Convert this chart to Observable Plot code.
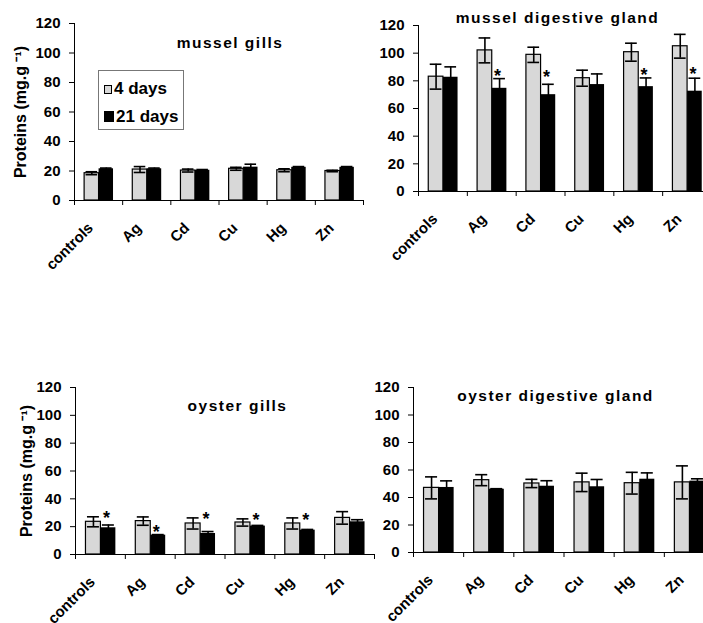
<!DOCTYPE html>
<html><head><meta charset="utf-8">
<script src="https://cdn.jsdelivr.net/npm/d3@7"></script>
<script src="https://cdn.jsdelivr.net/npm/@observablehq/plot@0.6"></script>
<style>
html,body{margin:0;padding:0;background:#fff;overflow:hidden;}
#wrap{position:relative;width:703px;height:623px;overflow:hidden;background:#fff;font-family:"Liberation Sans",Arial,sans-serif;}
.panel{position:absolute;}
.legend{position:absolute;left:98px;top:70px;width:86px;height:60px;border:1px solid #777;box-sizing:border-box;background:#fff;font-weight:bold;font-size:17px;color:#000;}
.legend .row{position:absolute;left:5px;white-space:nowrap;line-height:17px;}
.legend .sw{display:inline-block;vertical-align:baseline;margin-right:2px;box-sizing:border-box;}
</style></head><body><div id="wrap"></div>
<script>
const categories = ["controls", "Ag", "Cd", "Cu", "Hg", "Zn"];
const seriesNames = ["4 days", "21 days"];
const yTicks = [0, 20, 40, 60, 80, 100, 120];
const yLabel = "Proteins (mg.g \u207B\u00B9)";

// mussel gills
const mgTitle = "mussel gills";
const mg4 = [18.5, 21, 20.3, 21.5, 20.5, 20];
const mg4err = [1, 2, 1, 1, 1, 0.5];
const mg21 = [21.5, 21.5, 20.5, 22.6, 22.5, 22.5];
const mg21err = [0.5, 0.5, 0.5, 2, 0.5, 0.5];
const mgStars = [null, null, null, null, null, null];

// mussel digestive gland
const mdTitle = "mussel digestive gland";
const md4 = [83, 102, 98.8, 81.9, 100.7, 105];
const md4err = [9, 9, 5.5, 5.8, 6.5, 8.6];
const md21 = [82.6, 74.6, 70, 77.3, 75.8, 72.5];
const md21err = [7.5, 7, 7.5, 7.7, 6.3, 9.4];
const mdStars = [null, 86.8, 86.3, null, 87.5, 88.7];

// oyster gills
const ogTitle = "oyster gills";
const og4 = [23.5, 24, 22.3, 23, 22.3, 26.3];
const og4err = [3.6, 3, 4, 2.6, 4, 4.5];
const og21 = [19.2, 13.9, 15.1, 20.4, 17.5, 23.5];
const og21err = [2, 0.4, 1.4, 0.5, 0.5, 1.5];
const ogStars = [29.5, 19.4, 28.7, 28, 28, null];

// oyster digestive gland
const odTitle = "oyster digestive gland";
const od4 = [47, 52.6, 50.2, 51, 50.4, 51];
const od4err = [8, 4, 3, 6.7, 7.9, 12];
const od21 = [47.3, 46, 48.2, 47.8, 53.3, 51.9];
const od21err = [4.8, 0.4, 4, 5.3, 4.6, 1.7];
const odStars = [null, null, null, null, null, null];

const panels = [
  {title: mgTitle, v4: mg4, e4: mg4err, v21: mg21, e21: mg21err, stars: mgStars, ylab: true,
   left: 0, top: 0, width: 370, height: 300, ml: 74, mr: 7, mt: 23, mb: 100, tdx: 11, tdy: 24, ldx: -53.5},
  {title: mdTitle, v4: md4, e4: md4err, v21: md21, e21: md21err, stars: mdStars, ylab: false,
   left: 350, top: 0, width: 365, height: 300, ml: 68, mr: 4, mt: 25, mb: 109, tdx: -7.5, tdy: -3},
  {title: ogTitle, v4: og4, e4: og4err, v21: og21, e21: og21err, stars: ogStars, ylab: true,
   left: 0, top: 320, width: 380, height: 303, ml: 75, mr: 6, mt: 67, mb: 69, tdx: 12.5, tdy: 23, ldx: -49},
  {title: odTitle, v4: od4, e4: od4err, v21: od21, e21: od21err, stars: odStars, ylab: false,
   left: 345, top: 320, width: 374, height: 303, ml: 68, mr: 5, mt: 67, mb: 71, tdx: -8.5, tdy: 13}
];

const B0 = 0.21, B1 = 0.51, B2 = 0.81, CAP = 0.12;
const wrap = document.getElementById("wrap");

for (const p of panels) {
  const rows4 = categories.map((c, i) => ({i, cat: c, value: p.v4[i], err: p.e4[i], x: i + (B0 + B1) / 2}));
  const rows21 = categories.map((c, i) => ({i, cat: c, value: p.v21[i], err: p.e21[i], x: i + (B1 + B2) / 2, star: p.stars[i]}));
  const all = rows4.concat(rows21);
  const starRows = rows21.filter(d => d.star != null);
  const marks = [
    Plot.rectY(rows4, {x1: d => d.i + B0, x2: d => d.i + B1, y: "value", fill: "#d8d8d8", stroke: "#000", strokeWidth: 1.2}),
    Plot.rectY(rows21, {x1: d => d.i + B1, x2: d => d.i + B2, y: "value", fill: "#000"}),
    Plot.ruleX(all, {x: "x", y1: d => d.value - d.err, y2: d => d.value + d.err, stroke: "#000", strokeWidth: 1.6}),
    Plot.ruleY(all, {y: d => d.value + d.err, x1: d => d.x - CAP, x2: d => d.x + CAP, stroke: "#000", strokeWidth: 1.6}),
    Plot.ruleY(all, {y: d => d.value - d.err, x1: d => d.x - CAP, x2: d => d.x + CAP, stroke: "#000", strokeWidth: 1.6}),
    Plot.ruleY([0], {stroke: "#000", strokeWidth: 1}),
    Plot.ruleX([0], {stroke: "#000", strokeWidth: 1}),
    Plot.axisY({ticks: yTicks, tickSize: 5, tickPadding: 9, fontSize: 15, fontWeight: "bold", label: null, stroke: "#000"}),
    Plot.axisX({ticks: d3.range(categories.length + 1), tickSize: 5, tickFormat: () => "", label: null}),
    Plot.axisX({ticks: categories.map((c, i) => i + 0.5), tickFormat: v => categories[Math.floor(v)], tickSize: 0,
      tickRotate: -45, tickPadding: 25, dx: -8, fontSize: 15, fontWeight: "bold", label: null}),
    Plot.text(starRows, {x: "x", y: "star", text: () => "*", fontSize: 18, fontWeight: "bold", lineAnchor: "middle", dx: -2, dy: 5}),
    Plot.text([p.title], {frameAnchor: "top", lineAnchor: "bottom", dx: p.tdx, dy: p.tdy, fontSize: 15.5, fontWeight: "bold"})
  ];
  if (p.ylab) marks.push(Plot.text([yLabel], {frameAnchor: "left", textAnchor: "middle", rotate: -90, dx: p.ldx, fontSize: 16, fontWeight: "bold"}));
  const chart = Plot.plot({
    width: p.width, height: p.height,
    marginLeft: p.ml, marginRight: p.mr, marginTop: p.mt, marginBottom: p.mb,
    style: {fontFamily: "'Liberation Sans', Arial, sans-serif", background: "transparent", color: "#000", overflow: "visible"},
    x: {domain: [0, categories.length], axis: null},
    y: {domain: [0, 120], axis: null},
    marks
  });
  d3.select(chart).selectAll("text")
    .filter(function () { return this.textContent === p.title; })
    .style("letter-spacing", "1.5px");
  chart.classList.add("panel");
  chart.style.left = p.left + "px";
  chart.style.top = p.top + "px";
  chart.style.maxWidth = "none";
  wrap.appendChild(chart);
}

// legend
const legend = document.createElement("div");
legend.className = "legend";
legend.innerHTML =
  `<div class="row" style="top:9px"><span class="sw" style="width:8px;height:9px;background:#d8d8d8;border:1px solid #000"></span>${seriesNames[0]}</div>` +
  `<div class="row" style="top:37px"><span class="sw" style="width:10px;height:11px;background:#000"></span>${seriesNames[1]}</div>`;
wrap.appendChild(legend);
</script></body></html>
